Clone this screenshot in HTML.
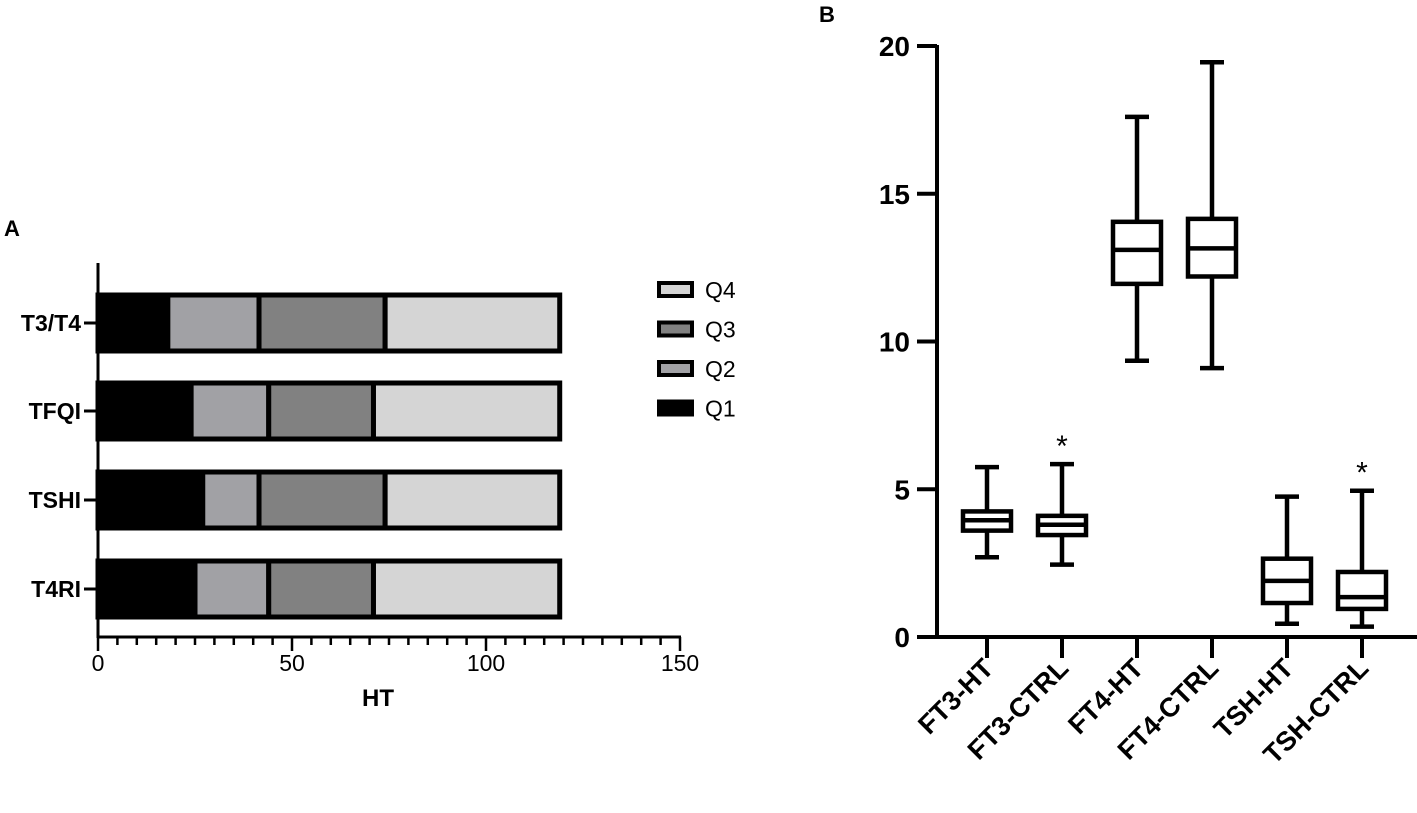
<!DOCTYPE html>
<html><head><meta charset="utf-8"><style>
body{margin:0;background:#fff;width:1417px;height:813px;overflow:hidden}
svg{display:block;font-family:"Liberation Sans",Arial,sans-serif}
</style></head><body>
<svg id="fig" width="1417" height="813"></svg>
<script>
// Panel A data
const catsA = ["T3/T4","TFQI","TSHI","T4RI"];
const q1 = [18, 24, 27, 25];
const q2 = [23.5, 20, 14.5, 19];
const q3 = [32.5, 27, 32.5, 27];
const q4 = [45, 48, 45, 48];
const xTicksA = [0, 50, 100, 150];
// Panel B data
const catsB = ["FT3-HT","FT3-CTRL","FT4-HT","FT4-CTRL","TSH-HT","TSH-CTRL"];
const bMin = [2.7, 2.45, 9.35, 9.1, 0.45, 0.35];
const bQ1 = [3.6, 3.45, 11.95, 12.2, 1.15, 0.95];
const bMed = [3.95, 3.8, 13.1, 13.15, 1.9, 1.35];
const bQ3 = [4.25, 4.1, 14.05, 14.15, 2.65, 2.2];
const bMax = [5.75, 5.85, 17.6, 19.45, 4.75, 4.95];
const stars = [false, true, false, false, false, true];
const yTicksB = [0, 5, 10, 15, 20];

const NS = "http://www.w3.org/2000/svg";
const svg = document.getElementById("fig");
function mk(tag, attrs, parent) {
  const e = document.createElementNS(NS, tag);
  for (const k in attrs) e.setAttribute(k, attrs[k]);
  (parent || svg).appendChild(e);
  return e;
}
// ---- Panel A ----
const xA = v => 98 + v * (680 - 98) / 150;
const barTop = [295, 383, 472, 561], barH = 56;
const ga = mk("g", {});


let t = mk("text", {x: 4, y: 236, "font-size": 22, "font-weight": "bold"}, ga); t.textContent = "A";


const fills = ["#000", "#a1a1a5", "#818181", "#d5d5d5"];
const series = [q1, q2, q3, q4];
catsA.forEach((c, i) => {
  const y = barTop[i];
  let acc = 0;
  series.forEach((s, k) => {
    const r = mk("rect", {x: xA(acc), y: y, width: xA(acc + s[i]) - xA(acc), height: barH, fill: fills[k], stroke: "#000", "stroke-width": 5}, ga);
    
    
    acc += s[i];
  });
  mk("line", {x1: 84, x2: 98, y1: y + barH / 2, y2: y + barH / 2, stroke: "#000", "stroke-width": 3}, ga);
  const l = mk("text", {x: 81, y: y + barH / 2 + 8, "text-anchor": "end", "font-size": 23, "font-weight": "bold"}, ga);
  l.textContent = c;
  
  
});
mk("line", {x1: 98, x2: 98, y1: 263, y2: 638, stroke: "#000", "stroke-width": 3}, ga);
mk("line", {x1: 97, x2: 681, y1: 637, y2: 637, stroke: "#000", "stroke-width": 3}, ga);
for (let v = 0; v <= 150; v += 5) {
  const major = v % 50 === 0;
  mk("line", {x1: xA(v), x2: xA(v), y1: 637, y2: major ? 651 : 645, stroke: "#000", "stroke-width": 2.5}, ga);
}
xTicksA.forEach(v => {
  const l = mk("text", {x: xA(v), y: 671, "text-anchor": "middle", "font-size": 23}, ga);
  l.textContent = v;
  
  
});
t = mk("text", {x: 378, y: 706, "text-anchor": "middle", "font-size": 24, "font-weight": "bold"}, ga); t.textContent = "HT";


["Q4", "Q3", "Q2", "Q1"].forEach((q, i) => {
  const y = 283 + i * 39.5;
  const g = mk("g", {}, ga);
  
  
  mk("rect", {x: 659, y: y, width: 33, height: 13, fill: fills[3 - i], stroke: "#000", "stroke-width": 4}, g);
  const l = mk("text", {x: 705, y: y + 15, "font-size": 23}, g); l.textContent = q;
});
// ---- Panel B ----
const yB = v => 637 - v * (637 - 46) / 20;
const xB = [987, 1062, 1137, 1212, 1287, 1362];
const gb = mk("g", {});


t = mk("text", {x: 819, y: 22, "font-size": 22, "font-weight": "bold"}, gb); t.textContent = "B";


mk("line", {x1: 937, x2: 937, y1: 45, y2: 639, stroke: "#000", "stroke-width": 4}, gb);
mk("line", {x1: 935, x2: 1417, y1: 637, y2: 637, stroke: "#000", "stroke-width": 4}, gb);
yTicksB.forEach(v => {
  mk("line", {x1: 917, x2: 937, y1: yB(v), y2: yB(v), stroke: "#000", "stroke-width": 4}, gb);
  const l = mk("text", {x: 910, y: yB(v) + 10, "text-anchor": "end", "font-size": 28, "font-weight": "bold"}, gb);
  l.textContent = v;
  
  
});
catsB.forEach((c, i) => {
  const x = xB[i];
  const g = mk("g", {}, gb);
  
  
  const st = {stroke: "#000", "stroke-width": 4.5, fill: "none"};
  mk("line", Object.assign({x1: x, x2: x, y1: yB(bMax[i]), y2: yB(bQ3[i])}, st), g);
  mk("line", Object.assign({x1: x, x2: x, y1: yB(bQ1[i]), y2: yB(bMin[i])}, st), g);
  mk("line", Object.assign({x1: x - 12, x2: x + 12, y1: yB(bMax[i]), y2: yB(bMax[i])}, st), g);
  mk("line", Object.assign({x1: x - 12, x2: x + 12, y1: yB(bMin[i]), y2: yB(bMin[i])}, st), g);
  mk("rect", Object.assign({x: x - 24, y: yB(bQ3[i]), width: 48, height: yB(bQ1[i]) - yB(bQ3[i])}, st), g);
  mk("line", Object.assign({x1: x - 24, x2: x + 24, y1: yB(bMed[i]), y2: yB(bMed[i])}, st), g);
  if (stars[i]) {
    const s = mk("text", {x: x, y: yB(bMax[i]) - 8, "text-anchor": "middle", "font-size": 30}, g);
    s.textContent = "*";
    
    
  }
  mk("line", {x1: x, x2: x, y1: 637, y2: 658, stroke: "#000", "stroke-width": 4}, gb);
  const l = mk("text", {x: x + 8, y: 670, "text-anchor": "end", "font-size": 27, "font-weight": "bold", transform: "rotate(-45 " + (x + 8) + " 670)"}, gb);
  l.textContent = c;
  
  
});
</script>
</body></html>
